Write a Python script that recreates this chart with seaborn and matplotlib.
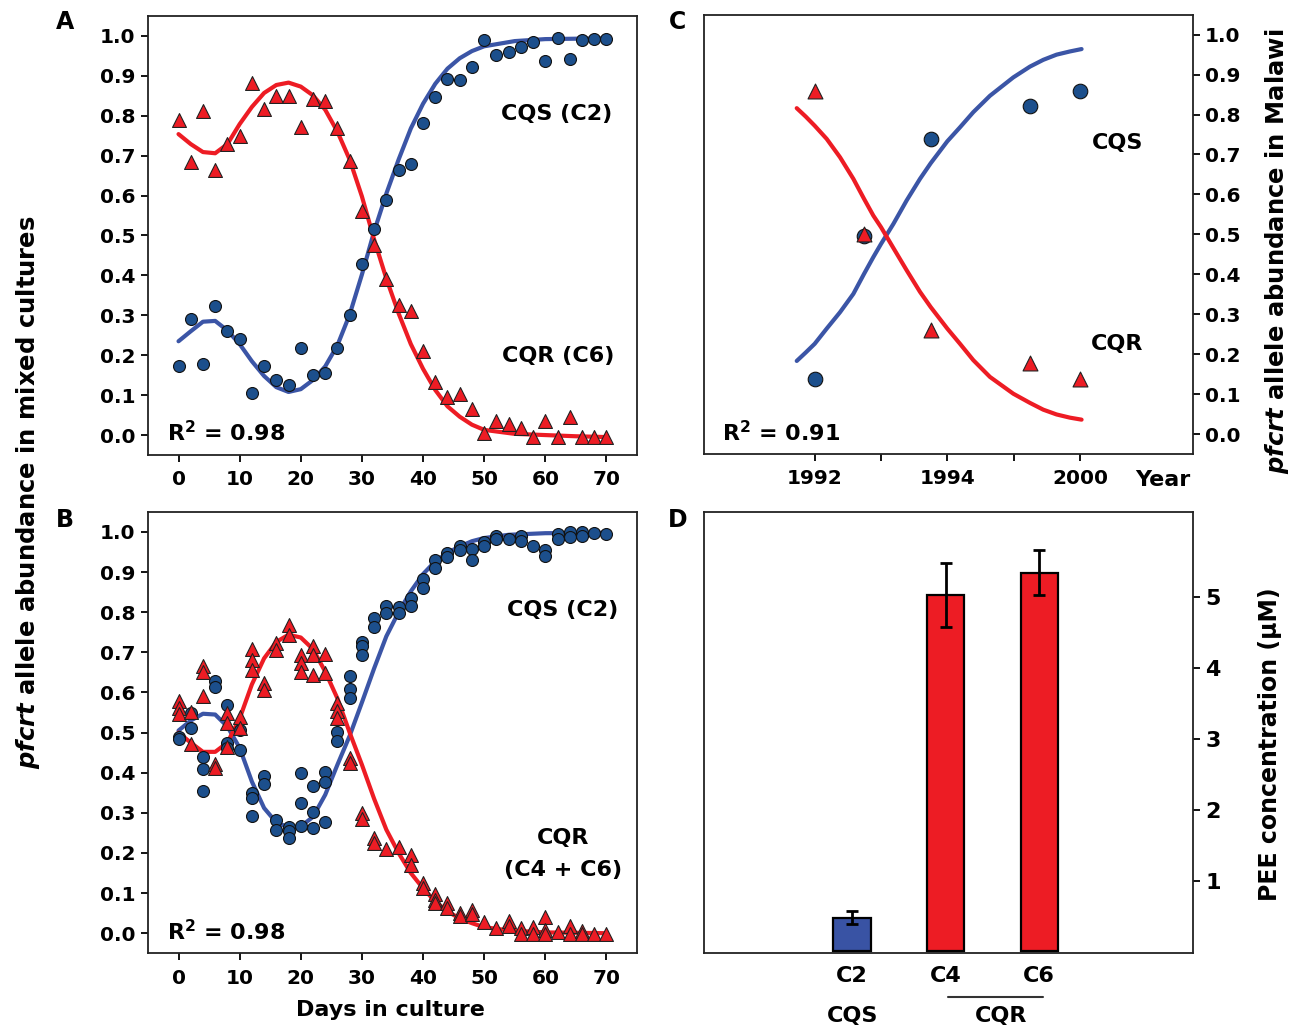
import matplotlib
matplotlib.use("Agg")
import matplotlib.pyplot as plt
import matplotlib.transforms as mtrans
import numpy as np
import pandas as pd
import seaborn as sns

# ---------------- panel A: C2 (CQS) + C6 (CQR) co-culture ----------------
a_days = [0, 2, 4, 6, 8, 10, 12, 14, 16, 18, 20, 22, 24, 26, 28, 30, 32, 34,
          36, 38, 40, 42, 44, 46, 48, 50, 52, 54, 56, 58, 60, 62, 64, 66, 68, 70]
a_cqs = [0.173, 0.290, 0.178, 0.324, 0.260, 0.240, 0.106, 0.173, 0.139, 0.125,
         0.218, 0.150, 0.156, 0.218, 0.300, 0.428, 0.515, 0.589, 0.665, 0.678,
         0.782, 0.848, 0.892, 0.889, 0.922, 0.989, 0.952, 0.960, 0.971, 0.985,
         0.936, 0.994, 0.943, 0.990, 0.992, 0.992]
a_cqr = [0.789, 0.683, 0.812, 0.664, 0.728, 0.748, 0.883, 0.817, 0.850, 0.850,
         0.771, 0.842, 0.836, 0.769, 0.686, 0.562, 0.475, 0.392, 0.325, 0.312,
         0.210, 0.133, 0.096, 0.104, 0.065, 0.006, 0.036, 0.027, 0.017, -0.005,
         0.036, -0.004, 0.046, -0.006, -0.005, -0.004]
a_fit_days = [0, 2, 4, 6, 8, 10, 12, 14, 16, 18, 20, 22, 24, 26, 28, 30, 32,
              34, 36, 38, 40, 42, 44, 46, 48, 50, 55, 60, 65, 70]
a_fit_cqs = [0.235, 0.260, 0.284, 0.286, 0.262, 0.228, 0.185, 0.148, 0.120,
             0.108, 0.115, 0.138, 0.172, 0.225, 0.302, 0.402, 0.510, 0.605,
             0.690, 0.768, 0.830, 0.880, 0.918, 0.944, 0.962, 0.974, 0.987,
             0.992, 0.993, 0.994]
a_fit_cqr = [0.754, 0.729, 0.709, 0.706, 0.729, 0.779, 0.822, 0.857, 0.877,
             0.883, 0.873, 0.851, 0.815, 0.760, 0.690, 0.598, 0.490, 0.392,
             0.305, 0.228, 0.166, 0.113, 0.072, 0.046, 0.026, 0.013, 0.003,
             0.000, -0.003, -0.005]

# ---------------- panel B: C2 (CQS) + C4/C6 (CQR) replicates ----------------
b_cqs_days = [0, 0, 2, 2, 4, 4, 4, 6, 6, 8, 8, 8, 10, 10, 12, 12, 12, 14, 14,
              16, 16, 18, 18, 18, 20, 20, 20, 22, 22, 22, 24, 24, 24, 26, 26,
              28, 28, 28, 30, 30, 30, 32, 32, 34, 34, 36, 36, 38, 38, 40, 40,
              42, 42, 44, 44, 46, 46, 48, 48, 50, 50, 52, 52, 54, 56, 56, 58,
              60, 60, 62, 62, 64, 64, 66, 66, 68, 70]
b_cqs = [0.489, 0.484, 0.549, 0.511, 0.440, 0.409, 0.355, 0.628, 0.613, 0.569,
         0.474, 0.461, 0.507, 0.457, 0.349, 0.337, 0.291, 0.391, 0.372, 0.283,
         0.258, 0.264, 0.254, 0.237, 0.400, 0.324, 0.267, 0.366, 0.303, 0.262,
         0.403, 0.378, 0.278, 0.501, 0.478, 0.640, 0.609, 0.587, 0.727, 0.715,
         0.694, 0.786, 0.763, 0.816, 0.798, 0.813, 0.798, 0.835, 0.816, 0.884,
         0.860, 0.931, 0.910, 0.948, 0.938, 0.964, 0.954, 0.958, 0.931, 0.974,
         0.964, 0.991, 0.983, 0.983, 0.989, 0.977, 0.964, 0.956, 0.939, 0.996,
         0.983, 0.999, 0.988, 0.999, 0.989, 0.998, 0.996]
b_cqr_days = [0, 0, 0, 2, 2, 4, 4, 4, 6, 6, 8, 8, 8, 10, 10, 12, 12, 12, 14,
              14, 16, 16, 18, 18, 20, 20, 20, 22, 22, 22, 24, 24, 26, 26, 26,
              28, 28, 30, 30, 32, 32, 34, 36, 38, 38, 40, 40, 42, 42, 42, 44,
              44, 46, 46, 48, 48, 50, 52, 54, 54, 56, 56, 58, 58, 60, 60, 60,
              62, 64, 64, 66, 66, 68, 70]
b_cqr = [0.578, 0.562, 0.546, 0.551, 0.472, 0.667, 0.650, 0.590, 0.422, 0.413,
         0.549, 0.523, 0.465, 0.540, 0.511, 0.709, 0.680, 0.657, 0.623, 0.607,
         0.723, 0.707, 0.769, 0.744, 0.694, 0.673, 0.650, 0.716, 0.694, 0.644,
         0.697, 0.648, 0.574, 0.553, 0.536, 0.436, 0.425, 0.299, 0.284, 0.237,
         0.224, 0.211, 0.214, 0.195, 0.170, 0.125, 0.113, 0.097, 0.084, 0.075,
         0.075, 0.062, 0.050, 0.042, 0.058, 0.047, 0.028, 0.012, 0.030, 0.018,
         0.013, -0.003, 0.015, -0.003, 0.040, 0.008, -0.003, 0.004, 0.017,
         -0.003, 0.006, -0.003, -0.003, -0.003]
b_fit_days = [0, 2, 4, 6, 8, 10, 12, 14, 16, 18, 20, 22, 24, 26, 28, 30, 32,
              34, 36, 38, 40, 42, 44, 46, 48, 50, 54, 60, 70]
b_fit_cqs = [0.505, 0.530, 0.547, 0.545, 0.515, 0.462, 0.378, 0.312, 0.276,
             0.264, 0.266, 0.290, 0.345, 0.420, 0.492, 0.575, 0.660, 0.740,
             0.800, 0.852, 0.895, 0.927, 0.948, 0.964, 0.977, 0.985, 0.993,
             0.997, 0.998]
b_fit_cqr = [0.500, 0.475, 0.452, 0.452, 0.475, 0.535, 0.620, 0.685, 0.726,
             0.744, 0.737, 0.708, 0.652, 0.585, 0.500, 0.420, 0.335, 0.258,
             0.200, 0.150, 0.112, 0.079, 0.054, 0.037, 0.025, 0.015, 0.007,
             0.002, 0.000]

# ---------------- panel C: Malawi field survey ----------------
c_year_labels = ["1992", "", "1994", "", "2000"]
c_pos = [0, 0.744, 1.75, 3.25, 4.0]
c_cqs = [0.138, 0.497, 0.740, 0.821, 0.860]
c_cqr = [0.860, 0.500, 0.260, 0.178, 0.138]
c_fit_pos = [-0.271, -0.136, 0.0, 0.181, 0.382, 0.583, 0.744, 0.884, 1.0,
             1.186, 1.387, 1.588, 1.749, 2.0, 2.191, 2.392, 2.643, 2.995,
             3.246, 3.447, 3.648, 3.849, 4.025]
c_fit_cqs = [0.183, 0.204, 0.226, 0.264, 0.305, 0.351, 0.401, 0.443, 0.476,
             0.526, 0.585, 0.639, 0.678, 0.733, 0.768, 0.806, 0.847, 0.893,
             0.920, 0.937, 0.950, 0.958, 0.964]
c_fit_cqr = [0.816, 0.795, 0.772, 0.739, 0.693, 0.639, 0.589, 0.547, 0.518,
             0.466, 0.410, 0.356, 0.318, 0.264, 0.226, 0.185, 0.143, 0.101,
             0.078, 0.061, 0.049, 0.041, 0.036]

# ---------------- panel D: PEE concentration ----------------
d_strains = ["C2", "C4", "C6"]
d_pee = [0.477, 5.03, 5.35]
d_err = [0.094, 0.45, 0.32]

RED = "#ED1C24"
BLUE_PT = "#1C4F8C"
BLUE_LN = "#3B55A6"
BLUE_BAR = "#3953A4"

sns.set_theme(style="ticks")
plt.rcParams["font.family"] = ["DejaVu Sans"]
plt.rcParams.update({
    "font.weight": "bold",
    "text.color": "black",
    "axes.labelcolor": "black",
    "mathtext.fontset": "custom",
    "mathtext.rm": "DejaVu Sans:bold",
    "mathtext.it": "DejaVu Sans:italic:bold",
    "mathtext.bf": "DejaVu Sans:bold",
    "axes.linewidth": 1.3,
    "axes.edgecolor": "#222222",
    "xtick.major.width": 1.3, "ytick.major.width": 1.3,
    "xtick.major.size": 5, "ytick.major.size": 5,
    "xtick.labelsize": 14.5, "ytick.labelsize": 14.5,
    "xtick.color": "black", "ytick.color": "black",
})


def draw_course(ax, sd, sv, rd, rv, fx, fs, fr, s_circ=74, s_tri=100):
    sns.lineplot(x=fx, y=fs, ax=ax, color=BLUE_LN, linewidth=3,
                 estimator=None, zorder=2)
    sns.lineplot(x=fx, y=fr, ax=ax, color=RED, linewidth=3,
                 estimator=None, zorder=2)
    sns.scatterplot(x=sd, y=sv, ax=ax, marker="o", s=s_circ, color=BLUE_PT,
                    edgecolor="#111111", linewidth=0.8, zorder=3)
    sns.scatterplot(x=rd, y=rv, ax=ax, marker="^", s=s_tri, color=RED,
                    edgecolor="#222222", linewidth=0.8, zorder=4)


yt = [0.0, 0.1, 0.2, 0.3, 0.4, 0.5, 0.6, 0.7, 0.8, 0.9, 1.0]
ytl = [f"{v:.1f}" for v in yt]

fig = plt.figure(figsize=(12.91, 10.29), dpi=100)
ax_a = fig.add_axes([0.1146, 0.5578, 0.3788, 0.4267])
ax_b = fig.add_axes([0.1146, 0.0736, 0.3788, 0.4289])
ax_c = fig.add_axes([0.5453, 0.5588, 0.3785, 0.4269])
ax_d = fig.add_axes([0.5453, 0.0736, 0.3786, 0.4292])

draw_course(ax_a, a_days, a_cqs, a_days, a_cqr, a_fit_days, a_fit_cqs, a_fit_cqr)
draw_course(ax_b, b_cqs_days, b_cqs, b_cqr_days, b_cqr, b_fit_days, b_fit_cqs,
            b_fit_cqr)

for ax in (ax_a, ax_b):
    ax.set_xlim(-5, 75)
    ax.set_ylim(-0.05, 1.05)
    ax.set_xticks([0, 10, 20, 30, 40, 50, 60, 70])
    ax.set_yticks(yt)
    ax.set_yticklabels(ytl)
    ax.tick_params(axis="x", pad=6)
    ax.tick_params(axis="y", pad=4)
    ax.set_xlabel("")
    ax.set_ylabel("")

ax_a.text(0.836, 0.777, "CQS (C2)", transform=ax_a.transAxes, ha="center",
          va="center", fontsize=16)
ax_a.text(0.838, 0.2255, "CQR (C6)", transform=ax_a.transAxes, ha="center",
          va="center", fontsize=16)
ax_a.text(0.039, 0.05, "R$^2$ = 0.98", transform=ax_a.transAxes, ha="left",
          va="center", fontsize=16)
ax_b.text(0.848, 0.778, "CQS (C2)", transform=ax_b.transAxes, ha="center",
          va="center", fontsize=16)
ax_b.text(0.848, 0.261, "CQR", transform=ax_b.transAxes, ha="center",
          va="center", fontsize=16)
ax_b.text(0.848, 0.188, "(C4 + C6)", transform=ax_b.transAxes, ha="center",
          va="center", fontsize=16)
ax_b.text(0.039, 0.048, "R$^2$ = 0.98", transform=ax_b.transAxes, ha="left",
          va="center", fontsize=16)

# panel C
draw_course(ax_c, c_pos, c_cqs, c_pos, c_cqr, c_fit_pos, c_fit_cqs, c_fit_cqr,
            s_circ=110, s_tri=115)
ax_c.set_xlim(-1.67, 5.70)
ax_c.set_ylim(-0.05, 1.05)
ax_c.set_xticks(range(len(c_year_labels)))
ax_c.set_xticklabels(c_year_labels)
ax_c.yaxis.tick_right()
ax_c.set_yticks(yt)
ax_c.set_yticklabels(ytl)
ax_c.tick_params(axis="x", pad=6)
ax_c.tick_params(axis="y", pad=4)
ax_c.set_xlabel("")
ax_c.set_ylabel("")
ax_c.text(0.938, -0.059, "Year", transform=ax_c.transAxes, ha="center",
          va="center", fontsize=16)
ax_c.text(0.846, 0.709, "CQS", transform=ax_c.transAxes, ha="center",
          va="center", fontsize=16)
ax_c.text(0.846, 0.25, "CQR", transform=ax_c.transAxes, ha="center",
          va="center", fontsize=16)
ax_c.text(0.0375, 0.0485, "R$^2$ = 0.91", transform=ax_c.transAxes, ha="left",
          va="center", fontsize=16)

# panel D
sns.barplot(x=d_strains, y=d_pee, hue=d_strains, palette=[BLUE_BAR, RED, RED],
            saturation=1, width=0.4, edgecolor="black", linewidth=1.6,
            errorbar=None, legend=False, ax=ax_d, zorder=2)
ax_d.errorbar(range(len(d_strains)), d_pee, yerr=d_err, fmt="none",
              ecolor="black", elinewidth=2, capsize=4, capthick=2, zorder=3)
ax_d.set_xlim(-1.583, 3.64)
ax_d.set_ylim(-0.025, 6.21)
ax_d.yaxis.tick_right()
ax_d.set_yticks([1, 2, 3, 4, 5])
ax_d.tick_params(axis="y", pad=4, labelsize=16)
ax_d.tick_params(axis="x", length=0, pad=9, labelsize=16)
ax_d.set_xlabel("")
ax_d.set_ylabel("")
blend = mtrans.blended_transform_factory(ax_d.transData, ax_d.transAxes)
ax_d.text(0.0, -0.142, "CQS", transform=blend, ha="center", va="center",
          fontsize=16)
ax_d.text(1.59, -0.142, "CQR", transform=blend, ha="center", va="center",
          fontsize=16)
ax_d.plot([1.02, 2.04], [-0.099, -0.099], transform=blend, color="#333333",
          linewidth=1.5, clip_on=False)

for ax in (ax_a, ax_b, ax_c, ax_d):
    for sp in ax.spines.values():
        sp.set_visible(True)
        sp.set_linewidth(1.3)

# shared labels and panel letters
fig.text(0.0217, 0.522, r"$\mathit{pfcrt}$ allele abundance in mixed cultures",
         rotation=90, ha="center", va="center", fontsize=17.5)
fig.text(0.3027, 0.0185, "Days in culture", ha="center", va="center",
         fontsize=16)
fig.text(0.989, 0.756, r"$\mathit{pfcrt}$ allele abundance in Malawi",
         rotation=90, ha="center", va="center", fontsize=17.5)
fig.text(0.984, 0.277, "PEE concentration (\u03bcM)", rotation=90,
         ha="center", va="center", fontsize=17)
for letter, x, y in [("A", 0.0503, 0.9786), ("B", 0.0503, 0.4947),
                     ("C", 0.525, 0.9786), ("D", 0.525, 0.4947)]:
    fig.text(x, y, letter, ha="center", va="center", fontsize=17)

fig.savefig("out.png", dpi=100)
